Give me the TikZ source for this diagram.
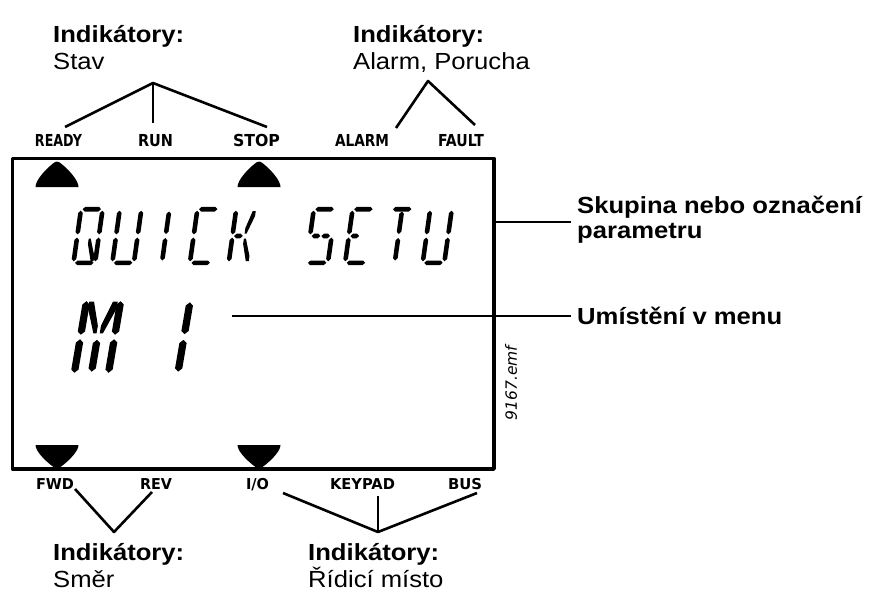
\documentclass[tikz,border=0pt]{standalone}
\usepackage{fontspec}
\usepackage{graphicx}
\setmainfont{Liberation Sans}[FakeStretch=1.1]
\newfontfamily\lcdfont{DejaVu Sans}
\newfontfamily\emffont{DejaVu Sans}
\newcommand\indl[3]{\resizebox{#1}{\height}{\fontsize{#2}{#2}\selectfont\lcdfont\bfseries #3}}
% segment primitives (local: x right, y down, origin bottom-left of cell)
\newcommand\vs[3]{\fill (#1,#2) -- ({#1+2.3},{#2+2.3}) -- ({#1+2.3},{#3-2.3}) -- (#1,#3) -- ({#1-2.3},{#3-2.3}) -- ({#1-2.3},{#2+2.3}) -- cycle;}
\newcommand\hs[3]{\fill (#2,#1) -- ({#2+2.3},{#1-2.3}) -- ({#3-2.3},{#1-2.3}) -- (#3,#1) -- ({#3-2.3},{#1+2.3}) -- ({#2+2.3},{#1+2.3}) -- cycle;}
\newcommand\sgA{\hs{-55.8}{3.8}{22.2}}
\newcommand\sgD{\hs{-2.2}{3.8}{22.2}}
\newcommand\sgF{\vs{2.2}{-54.3}{-30.6}}
\newcommand\sgE{\vs{2.2}{-27.4}{-3.7}}
\newcommand\sgB{\vs{23.8}{-54.3}{-30.6}}
\newcommand\sgC{\vs{23.8}{-27.4}{-3.7}}
\newcommand\sgG{\hs{-29}{3.8}{12.5}}
\newcommand\sgJ{\hs{-29}{13.5}{22.2}}
\newcommand\sgH{\vs{13}{-53.5}{-31}}
\newcommand\sgL{\vs{13}{-27}{-4.5}}
\newcommand\sgP{\fill (4,-54) -- (7,-54) -- (12,-37) -- (12,-31.5) -- (10,-31.5) -- (4,-49) -- cycle;}
\newcommand\sgQ{\fill (22,-54) -- (19,-54) -- (14,-37) -- (14,-31.5) -- (16,-31.5) -- (22,-49) -- cycle;}
\newcommand\sgR{\fill (14,-26.5) -- (16,-26.5) -- (22,-9) -- (22,-4) -- (19,-4) -- (14,-21) -- cycle;}
\newcommand\smallch[2]{\begin{scope}[shift={(#1,265)}, xslant=0.14]#2\end{scope}}
\newcommand\bigch[2]{\begin{scope}[shift={(#1,378)}, xslant=0.17, xscale=1.58, yscale=1.414]#2\end{scope}}
\begin{document}
\begin{tikzpicture}[x=1pt,y=-1pt, line join=round,
  conn/.style={line width=2.6pt},
  txt/.style={inner sep=0pt, anchor=base west, font=\fontsize{23.3}{28}\selectfont},
  lab/.style={inner sep=0pt, anchor=base},
  tri/.pic={\fill (-21.5,0) .. controls (-21.5,-7) and (-11,-18) .. (-4,-23.5) .. controls (-1,-26) and (1,-26) .. (4,-23.5) .. controls (11,-18) and (21.5,-7) .. (21.5,0) -- cycle;}
]
\useasboundingbox (0,0) rectangle (869,594);

% display frame
\node[draw, line width=3.4pt, inner sep=0pt, minimum width=481.5pt, minimum height=310.7pt] (lcd) at (253.25,313.65) {};

% arrows (indicator marks)
\pic at (57,187) {tri};
\pic at (259,187) {tri};
\pic[yscale=-0.92] at (57,445) {tri};
\pic[yscale=-0.92] at (259,445) {tri};

% segment text: QUICK SETU
\smallch{71}{\sgA\sgB\sgC\sgD\sgE\sgF\sgR}
\smallch{109.8}{\sgB\sgC\sgD\sgE\sgF}
\smallch{148.6}{\sgH\sgL}
\smallch{187.4}{\sgA\sgD\sgE\sgF}
\smallch{226.2}{\sgF\sgE\sgG\sgQ\sgR}
\smallch{303.8}{\sgA\sgF\sgG\sgJ\sgC\sgD}
\smallch{342.6}{\sgA\sgF\sgE\sgG\sgD}
\smallch{381.4}{\sgA\sgH\sgL}
\smallch{420.2}{\sgB\sgC\sgD\sgE\sgF}
% M 1
\bigch{70}{\sgF\sgE\sgB\sgC\sgP\sgQ\sgL}
\bigch{156.5}{\sgH\sgL}

% indicator labels
\node[lab] (ready) at (58.5,146) {\indl{47pt}{16.5}{READY}};
\node[lab] (run) at (155.5,146) {\indl{35pt}{16.5}{RUN}};
\node[lab] (stop) at (256.5,146) {\indl{47pt}{16.5}{STOP}};
\node[lab] (alarm) at (362,146) {\indl{54pt}{16.5}{ALARM}};
\node[lab] (fault) at (461,146) {\indl{46pt}{16.5}{FAULT}};
\node[lab] (fwd) at (55,489) {\indl{38pt}{15}{FWD}};
\node[lab] (rev) at (156,489) {\indl{32pt}{15}{REV}};
\node[lab] (io) at (257.5,489) {\indl{23pt}{15}{I/O}};
\node[lab] (keypad) at (362.5,489) {\indl{65pt}{15}{KEYPAD}};
\node[lab] (bus) at (465,489) {\indl{34pt}{15}{BUS}};

% captions
\node[txt] (t1) at (53,42) {\bfseries Indikátory:};
\node[txt] (t1b) at (53,70) {Stav};
\node[txt] (t2) at (353,42) {\bfseries Indikátory:};
\node[txt] (t2b) at (353,70) {Alarm, Porucha};
\node[txt] (t3) at (53,560) {\bfseries Indikátory:};
\node[txt] (t3b) at (53,587) {Směr};
\node[txt] (t4) at (308,560) {\bfseries Indikátory:};
\node[txt] (t4b) at (308,587) {Řídicí místo};
\node[txt] (r1) at (577,213) {\bfseries Skupina nebo označení};
\node[txt] (r1b) at (577,238.5) {\bfseries parametru};
\node[txt] (r2) at (577,324) {\bfseries Umístění v menu};
\node[inner sep=0pt, rotate=90, font=\emffont\itshape\fontsize{15.5}{15.5}\selectfont] (emf) at (511,383) {9167.emf};

% connector points
\coordinate (apS) at (153,83);
\coordinate (eReady) at (65,127);
\coordinate (eRun) at (153,123);
\coordinate (eStop) at (267,127);
\coordinate (apA) at (428,81);
\coordinate (eAlarm) at (396,128);
\coordinate (eFault) at (475,125);
\coordinate (apD) at (114,532);
\coordinate (eFwd) at (75,489);
\coordinate (eRev) at (152,492);
\coordinate (apL) at (378,532);
\coordinate (eIo) at (283,493);
\coordinate (eKey) at (378,496);
\coordinate (eBus) at (477,493);
\coordinate (eGrp) at (571,222);
\coordinate (eMenuL) at (232,316);
\coordinate (eMenuR) at (571,316);

\draw[conn] (eReady) -- (apS) -- (eStop);
\draw[conn] (apS) -- (eRun);
\draw[conn] (eAlarm) -- (apA) -- (eFault);
\draw[conn] (eFwd) -- (apD) -- (eRev);
\draw[conn] (eIo) -- (apL) -- (eBus);
\draw[conn] (apL) -- (eKey);
\draw[conn] (lcd.east |- eGrp) -- (eGrp);
\draw[conn] (eMenuL) -- (eMenuR);
\end{tikzpicture}
\end{document}
